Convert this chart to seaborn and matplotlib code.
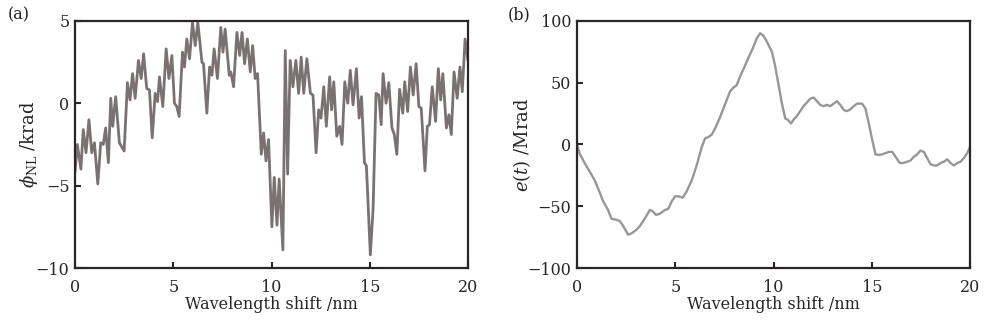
import matplotlib
matplotlib.use("Agg")
import matplotlib.pyplot as plt
import seaborn as sns
import pandas as pd

# (a) nonlinear phase, krad
shift_a = [0, 0.12, 0.30, 0.42, 0.56, 0.71, 0.85, 0.99, 1.16, 1.31,
           1.44, 1.56, 1.70, 1.82, 1.92, 2.07, 2.26, 2.50, 2.67, 2.80,
           2.93, 3.06, 3.23, 3.37, 3.49, 3.65, 3.79, 3.93, 4.08, 4.20,
           4.30, 4.47, 4.64, 4.78, 4.93, 5.06, 5.18, 5.30, 5.47, 5.57,
           5.69, 5.83, 5.98, 6.12, 6.25, 6.46, 6.54, 6.71, 6.85, 6.97,
           7.08, 7.25, 7.42, 7.53, 7.64, 7.85, 7.93, 8.07, 8.24, 8.38,
           8.50, 8.63, 8.77, 8.92, 9.04, 9.17, 9.29, 9.48, 9.60, 9.72,
           9.85, 10.02, 10.14, 10.28, 10.39, 10.58, 10.70, 10.82, 10.95, 11.09,
           11.24, 11.38, 11.51, 11.64, 11.80, 11.98, 12.11, 12.27, 12.40, 12.52,
           12.66, 12.79, 12.96, 13.06, 13.17, 13.32, 13.47, 13.59, 13.73, 13.88,
           14.01, 14.15, 14.32, 14.46, 14.58, 14.73, 14.83, 15.03, 15.17, 15.32,
           15.46, 15.58, 15.68, 15.83, 15.97, 16.13, 16.25, 16.38, 16.52, 16.68,
           16.78, 16.93, 17.07, 17.21, 17.36, 17.50, 17.62, 17.81, 17.93, 18.04,
           18.18, 18.35, 18.49, 18.61, 18.72, 18.90, 19.03, 19.15, 19.29, 19.45,
           19.59, 19.71, 19.85, 20.0]
phi_nl = [-4.2, -2.5, -4.0, -1.6, -3.0, -1.0, -3.0, -2.4, -4.9, -2.4,
          -2.5, -1.5, -3.6, 0.3, -1.4, 0.4, -2.4, -2.9, 1.25, 0.2,
          1.8, 0.3, 2.6, 1.5, 3.0, 0.9, 0.8, -2.1, 0.6, 0.1,
          1.6, -0.2, 3.3, 1.5, 2.9, 0.0, -0.2, -0.8, 3.1, 2.2,
          3.9, 2.7, 4.9, 3.5, 4.9, 2.5, 2.4, -0.6, 2.2, 1.7,
          3.3, 1.5, 4.6, 3.1, 4.5, 1.7, 1.9, 1.0, 4.3, 2.9,
          4.3, 2.4, 3.9, 1.9, 3.5, 1.5, 1.8, -3.1, -1.8, -3.5,
          -2.2, -7.5, -4.5, -7.4, -4.6, -8.9, 3.2, -4.3, 2.6, 1.0,
          2.6, 0.6, 2.8, 0.6, 2.7, 0.6, 0.5, -3.0, -0.4, -0.9,
          1.0, -1.4, 1.6, -0.4, 1.3, -2.0, -1.4, -2.5, 1.3, 0.0,
          2.0, -0.1, 2.1, -0.9, 0.4, -3.6, -3.8, -9.2, -6.4, 0.6,
          0.5, -1.3, 1.8, 0.0, 1.25, -1.5, -1.9, -3.1, 0.85, -0.6,
          1.3, -0.5, 2.2, 0.5, 2.4, -0.2, -0.3, -4.1, -1.4, -1.3,
          1.0, -1.1, 2.1, 0.2, 1.8, -1.5, -0.7, -1.9, 1.9, 0.3,
          2.2, 0.7, 3.9, 2.6]

# (b) error e(t), Mrad
shift_b = [0, 0.14, 0.39, 0.65, 0.90, 1.16, 1.33, 1.58, 1.75, 2.01,
           2.18, 2.35, 2.60, 2.77, 3.03, 3.20, 3.45, 3.71, 3.85, 4.02,
           4.22, 4.48, 4.65, 4.82, 4.99, 5.16, 5.38, 5.58, 5.84, 6.09,
           6.35, 6.52, 6.69, 6.86, 7.03, 7.25, 7.45, 7.62, 7.79, 7.96,
           8.13, 8.30, 8.50, 8.72, 8.95, 9.15, 9.32, 9.49, 9.70, 9.92,
           10.09, 10.26, 10.43, 10.60, 10.73, 10.89, 11.02, 11.19, 11.36, 11.53,
           11.70, 11.87, 12.04, 12.21, 12.38, 12.55, 12.72, 12.89, 13.06, 13.23,
           13.40, 13.57, 13.71, 13.88, 14.08, 14.25, 14.51, 14.68, 14.85, 15.02,
           15.19, 15.36, 15.53, 15.70, 15.87, 16.04, 16.21, 16.43, 16.60, 16.80,
           16.97, 17.14, 17.31, 17.48, 17.65, 17.82, 17.99, 18.16, 18.33, 18.50,
           18.67, 18.84, 19.01, 19.18, 19.35, 19.52, 19.69, 19.86, 20.0]
err_t = [0, -7.7, -15, -22, -29, -39, -46, -53, -60, -61,
         -62, -66, -73, -72, -69, -66, -60, -53, -54, -57,
         -56, -53, -52, -46, -42, -42, -43, -38, -29, -17,
         -2, 5, 6, 8, 13, 21, 29, 36, 43, 46,
         48, 55, 62, 70, 78, 86, 90, 88, 82, 75,
         63, 48, 33, 21, 20, 17, 20, 23, 27, 31,
         34, 37, 38, 35, 32, 31, 32, 31, 33, 35,
         32, 28, 27, 28, 31, 33, 33, 29, 17, 4,
         -8, -8.5, -8, -7, -6, -6, -10, -15, -15, -14,
         -13, -10, -8, -5, -6, -11, -16, -17, -17, -15,
         -14, -12, -15, -17, -15, -14, -11, -7, -2]

x_ticks = [0, 5, 10, 15, 20]
y_ticks_a = [-10, -5, 0, 5]
y_ticks_b = [-100, -50, 0, 50, 100]

sns.set_theme(style="ticks")
plt.rcParams['font.family'] = ['DejaVu Serif']
plt.rcParams['mathtext.fontset'] = 'dejavuserif'
plt.rcParams['text.color'] = '#231f20'

ink = '#2a2526'
fig = plt.figure(figsize=(10, 3.21), dpi=100)
ax_a = fig.add_axes([0.075, 0.165, 0.393, 0.77])
ax_b = fig.add_axes([0.577, 0.165, 0.393, 0.77])

df_a = pd.DataFrame({'shift': shift_a, 'phi': phi_nl})
df_b = pd.DataFrame({'shift': shift_b, 'err': err_t})
sns.lineplot(data=df_a, x='shift', y='phi', ax=ax_a, color='#7a7272', linewidth=2.0, estimator=None)
sns.lineplot(data=df_b, x='shift', y='err', ax=ax_b, color='#9b9696', linewidth=1.7, estimator=None)

for ax, yt, lim in [(ax_a, y_ticks_a, (-10, 5)), (ax_b, y_ticks_b, (-100, 100))]:
    ax.set_xlim(0, 20)
    ax.set_ylim(*lim)
    ax.set_xticks(x_ticks)
    ax.set_yticks(yt)
    ax.tick_params(direction='in', length=4, width=1.5, colors=ink, labelsize=11.5)
    ax.tick_params(axis='x', pad=8)
    ax.tick_params(axis='y', pad=4)
    for s in ax.spines.values():
        s.set_linewidth(1.6)
        s.set_color(ink)
    ax.set_xlabel('Wavelength shift /nm', fontsize=11.5, labelpad=0)

ax_a.set_ylabel(r'$\phi_{\rm NL}$ /krad', fontsize=13, labelpad=-3)
ax_b.set_ylabel(r'$e(t)$ /Mrad', fontsize=13, labelpad=-4)
fig.text(0.008, 0.955, '(a)', fontsize=11.5, va='center')
fig.text(0.508, 0.955, '(b)', fontsize=11.5, va='center')

fig.savefig('out.png', dpi=100)
